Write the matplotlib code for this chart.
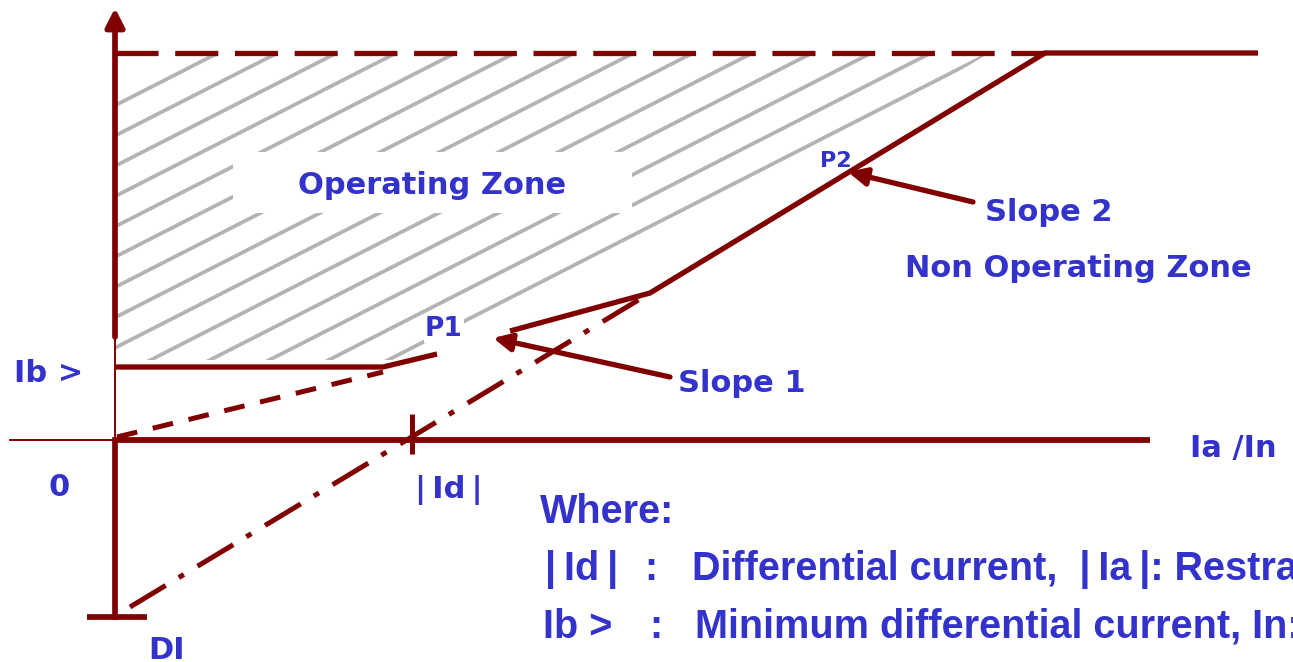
import numpy as np
import matplotlib
matplotlib.use("Agg")
import matplotlib.pyplot as plt
from matplotlib.patches import Polygon, Rectangle

plt.rcParams['lines.scale_dashes'] = False

DARK_RED = '#800000'
BLUE = '#3333cc'
GREY = '#b3b3b3'

#%% Data (diagram units: restraint current on x, differential current on y)
ib_min = 0.73            # Ib >
id_top = 3.87            # upper limit of the operating zone
di_level = -1.77         # DI
id_cross = 2.97          # |Id|, where slope 2 crosses the x axis

# tripping characteristic (nan = gap around P1)
char_x = [0.0, 2.68, 3.22, np.nan, 3.95, 5.35, 9.30, 11.43]
char_y = [ib_min, ib_min, 0.86, np.nan, 1.09, 1.47, id_top, id_top]

# slope 1 extended back to the origin
slope1_x = [0.02, 2.68]
slope1_y = [0.03, 0.68]

# slope 2 extended down to DI
slope2_x = [0.15, 5.35]
slope2_y = [-1.67, 1.47]

# dashed upper limit
limit_x = [0.0, 9.30]
limit_y = [id_top, id_top]

# operating zone outline used for the hatching
zone_x = [0.01, 8.70, 4.82, 3.25, 3.00, 0.01]
zone_y = [3.845, 3.845, 1.47, 0.95, 0.80, 0.80]

#%% Figure ###################################################################
fig = plt.figure(figsize=(12.93, 6.62), dpi=100)
ax = fig.add_axes([0, 0, 1, 1])
ax.set_xlim(-1.15, 11.78)
ax.set_ylim(-2.22, 4.40)
ax.axis('off')

# hatching of the operating zone
zone = Polygon(np.column_stack([zone_x, zone_y]), closed=True,
               facecolor='none', edgecolor='none')
ax.add_patch(zone)
hatch_slope = 0.51
for xt in 0.98 + 0.594 * np.arange(14):
    xs = np.array([xt - 9.0, xt + 1.0])
    ln, = ax.plot(xs, zone_y[0] + hatch_slope * (xs - xt), color=GREY,
                  lw=2.7, solid_capstyle='butt', zorder=1)
    ln.set_clip_path(zone)

# white box behind "Operating Zone"
ax.add_patch(Rectangle((1.18, 2.27), 3.99, 0.61, facecolor='white',
                       edgecolor='none', zorder=2))

# axes
ax.plot([0, 0], [0, 1.03], color=DARK_RED, lw=1.4, zorder=3)
ax.plot([0, 0], [0, di_level], color=DARK_RED, lw=4.1, zorder=3)
ax.plot([-0.28, 0.32], [di_level, di_level], color=DARK_RED, lw=4.1,
        solid_capstyle='butt', zorder=3)
ax.plot([-1.05, 0], [0, 0], color=DARK_RED, lw=1.4, zorder=3)
ax.plot([0, 10.35], [0, 0], color=DARK_RED, lw=4.2,
        solid_capstyle='butt', zorder=3)
ax.plot([id_cross, id_cross], [0.26, -0.14], color=DARK_RED, lw=3.6,
        solid_capstyle='butt', zorder=3)
ax.annotate('', xy=(0, 4.32), xytext=(0, 1.03),
            arrowprops=dict(arrowstyle='-|>,head_length=0.55,head_width=0.28',
                            mutation_scale=20, color=DARK_RED, lw=4.1,
                            shrinkA=0, shrinkB=0), zorder=3)

# characteristic and its extensions
ax.plot(limit_x, limit_y, color=DARK_RED, lw=3.8, dashes=(31, 12),
        dash_capstyle='butt', zorder=3)
ax.plot(char_x, char_y, color=DARK_RED, lw=3.8, solid_capstyle='butt',
        solid_joinstyle='miter', zorder=3)
ax.plot(slope1_x, slope1_y, color=DARK_RED, lw=3.6, dashes=(15, 11.5),
        dash_capstyle='butt', zorder=3)
ax.plot(slope2_x, slope2_y, color=DARK_RED, lw=3.6,
        dashes=(30, 11, 4.3, 11.5), dash_capstyle='butt', zorder=3)

# pointer arrows
arrow = dict(arrowstyle='-|>,head_length=0.45,head_width=0.22',
             mutation_scale=24, color=DARK_RED, lw=3.8,
             shrinkA=0, shrinkB=0)
ax.annotate('', xy=(3.78, 1.02), xytext=(5.55, 0.63), arrowprops=arrow, zorder=4)
ax.annotate('', xy=(7.33, 2.68), xytext=(8.58, 2.38), arrowprops=arrow, zorder=4)

#%% Labels ###################################################################
lab = dict(color=BLUE, fontweight='bold', family='DejaVu Sans',
           fontsize=22, va='baseline', ha='left', zorder=5)
ax.text(1.83, 2.46, 'Operating Zone', **lab)
ax.text(3.10, 1.04, 'P1', **dict(lab, fontsize=19),
        bbox=dict(boxstyle='square,pad=0.05', facecolor='white',
                  edgecolor='none'))
ax.text(7.05, 2.73, 'P2', **dict(lab, fontsize=16))
ax.text(8.70, 2.19, 'Slope 2', **lab)
ax.text(7.90, 1.63, 'Non Operating Zone', **lab)
ax.text(5.63, 0.48, 'Slope 1', **lab)
ax.text(-1.01, 0.58, 'Ib >', **lab)
ax.text(-0.67, -0.56, '0', **lab)
ax.text(3.00, -0.58, '|\u2009Id\u2009|', **lab)
ax.text(0.33, -2.19, 'DI', **lab)
ax.text(10.75, -0.17, 'Ia /In', **lab)

note = dict(color=BLUE, fontweight='bold', family='Liberation Sans',
            fontsize=28.5, va='baseline', ha='left', zorder=5)
ax.text(4.25, -0.83, 'Where:', **note)
ax.text(4.30, -1.40, '|\u2009Id\u2009|', **note)
ax.text(5.29, -1.40, ':', **note)
ax.text(5.77, -1.40,
        'Differential current,  |\u2009Ia\u2009|: Restraint current', **note)
ax.text(4.28, -1.98, 'Ib >', **note)
ax.text(5.34, -1.98, ':', **note)
ax.text(5.80, -1.98, 'Minimum differential current, In: Nominal current',
        **note)

fig.savefig('out.png', dpi=100)
